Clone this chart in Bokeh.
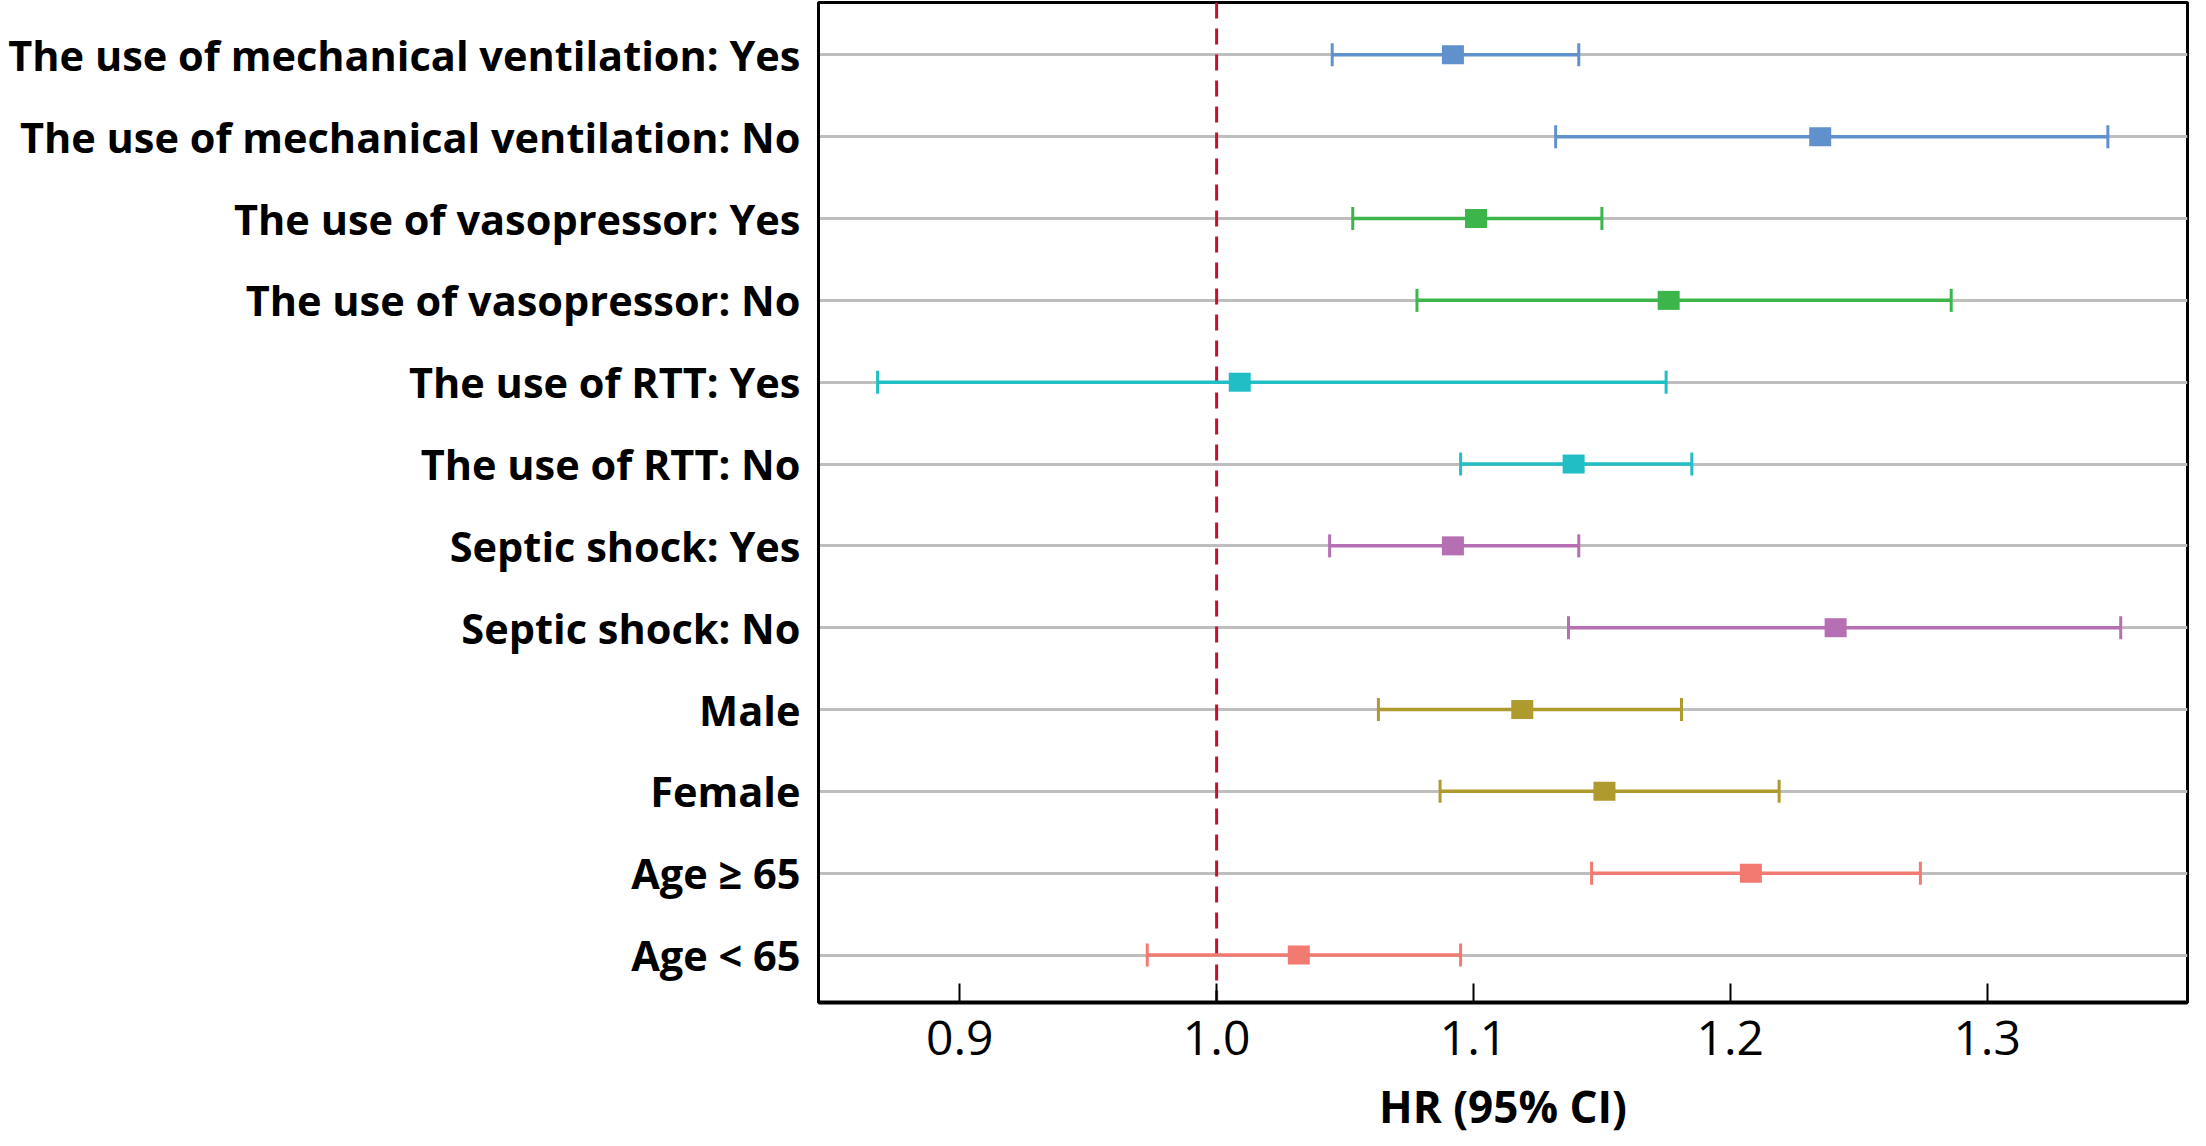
from bokeh.plotting import figure
from bokeh.models import Range1d, FixedTicker, Span, ColumnDataSource
from bokeh.embed import file_html
from bokeh.resources import INLINE

labels = [
    "The use of mechanical ventilation: Yes",
    "The use of mechanical ventilation: No",
    "The use of vasopressor: Yes",
    "The use of vasopressor: No",
    "The use of RTT: Yes",
    "The use of RTT: No",
    "Septic shock: Yes",
    "Septic shock: No",
    "Male",
    "Female",
    "Age \u2265 65",
    "Age < 65",
]
hr = [1.092, 1.235, 1.101, 1.176, 1.009, 1.139, 1.092, 1.241, 1.119, 1.151, 1.208, 1.032]
lower = [1.045, 1.132, 1.053, 1.078, 0.868, 1.095, 1.044, 1.137, 1.063, 1.087, 1.146, 0.973]
upper = [1.141, 1.347, 1.150, 1.286, 1.175, 1.185, 1.141, 1.352, 1.181, 1.219, 1.274, 1.095]
colors = ["#6191CC", "#6191CC", "#3CB64B", "#3CB64B", "#21BEC6", "#21BEC6",
          "#B66FB2", "#B66FB2", "#AF9A2E", "#AF9A2E", "#F37A70", "#F37A70"]
xticks = [0.9, 1.0, 1.1, 1.2, 1.3]
x_title = "HR (95% CI)"

rows = list(range(len(labels)))
src = ColumnDataSource(dict(y=rows, hr=hr, lo=lower, hi=upper, color=colors))

p = figure(width=2190, height=1138, output_backend="svg", toolbar_location=None,
           x_range=Range1d(0.845, 1.378), y_range=Range1d(11.58, -0.64),
           min_border_left=818, min_border_right=3, min_border_top=2, min_border_bottom=134)

p.outline_line_color = "black"
p.outline_line_width = 3
p.outline_line_alpha = 1

p.xgrid.visible = False
p.ygrid.ticker = FixedTicker(ticks=rows)
p.ygrid.grid_line_color = "#BEBEBE"
p.ygrid.grid_line_width = 3

p.xaxis.ticker = FixedTicker(ticks=xticks)
p.xaxis.major_label_overrides = {v: f"{v:.1f}" for v in xticks}
p.xaxis.major_tick_in = 19
p.xaxis.major_tick_out = 0
p.xaxis.minor_tick_line_color = None
p.xaxis.major_tick_line_width = 2
p.xaxis.axis_line_width = 4
p.xaxis.major_label_text_font = "Open Sans"
p.xaxis.major_label_text_font_size = "48px"
p.xaxis.major_label_text_color = "black"
p.xaxis.major_label_standoff = 18
p.xaxis.axis_label = x_title
p.xaxis.axis_label_text_font = "Open Sans"
p.xaxis.axis_label_text_font_style = "bold"
p.xaxis.axis_label_text_font_size = "44px"
p.xaxis.axis_label_text_color = "black"
p.xaxis.axis_label_standoff = 18

p.yaxis.ticker = FixedTicker(ticks=rows)
p.yaxis.major_label_overrides = {i: t for i, t in enumerate(labels)}
p.yaxis.major_tick_line_color = None
p.yaxis.minor_tick_line_color = None
p.yaxis.axis_line_width = 3
p.yaxis.major_label_text_font = "Open Sans"
p.yaxis.major_label_text_font_style = "bold"
p.yaxis.major_label_text_font_size = "41.5px"
p.yaxis.major_label_text_color = "black"
p.yaxis.major_label_standoff = 12

ref = Span(location=1.0, dimension="height", line_color="#C8102E", line_width=3,
           line_dash="16 10", level="underlay")
p.add_layout(ref)

p.segment(x0="lo", x1="hi", y0="y", y1="y", line_color="color", line_width=3.5, source=src)
p.scatter(x="lo", y="y", marker="dash", angle=1.5708, size=23, line_color="color",
          line_width=3, source=src)
p.scatter(x="hi", y="y", marker="dash", angle=1.5708, size=23, line_color="color",
          line_width=3, source=src)
p.rect(x="hr", y="y", width=22, height=19, width_units="screen", height_units="screen",
       fill_color="color", line_color=None, source=src)

open("out.html", "w").write(file_html(p, INLINE))
